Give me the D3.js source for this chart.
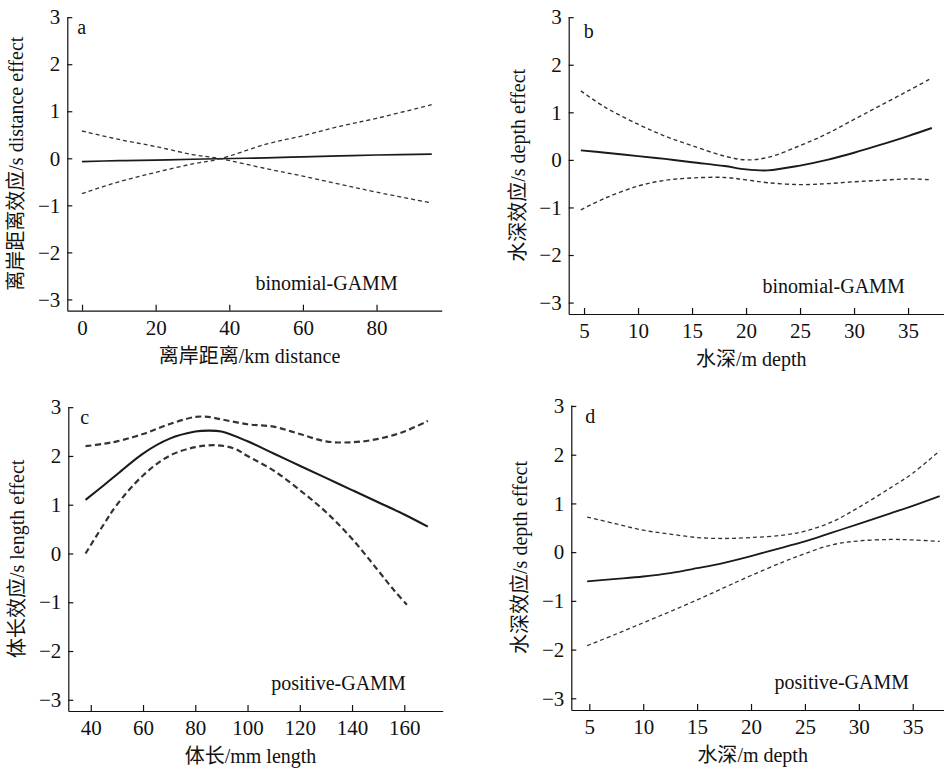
<!DOCTYPE html>
<html>
<head>
<meta charset="utf-8">
<script src="https://cdn.jsdelivr.net/npm/d3@7"></script>
<style>
  body { margin: 0; background: #fff; }
  svg text, svg tspan.lat { font-family: "Liberation Serif", "Times New Roman", serif; fill: #111; }
  svg tspan.cjk { font-family: "Noto Sans CJK SC", sans-serif; }
</style>
</head>
<body>
<script>
// panel a: distance (binomial-GAMM)
const distX     = [0, 10, 20, 30, 37, 50, 60, 70, 80, 95];
const distFit   = [-0.07, -0.05, -0.04, -0.02, -0.01, 0.01, 0.03, 0.05, 0.07, 0.09];
const distUpper = [0.58, 0.40, 0.25, 0.08, 0.0, -0.22, -0.38, -0.55, -0.72, -0.95];
const distLower = [-0.75, -0.50, -0.30, -0.12, -0.02, 0.30, 0.48, 0.68, 0.85, 1.14];

// panel b: depth (binomial-GAMM)
const depthBX     = [4.7, 7, 10, 12.5, 15, 18, 20, 22, 25, 27.5, 30, 32.5, 35, 37.2];
const depthBFit   = [0.20, 0.15, 0.08, 0.02, -0.05, -0.13, -0.20, -0.22, -0.12, 0.0, 0.15, 0.32, 0.50, 0.67];
const depthBUpper = [1.45, 1.10, 0.75, 0.50, 0.30, 0.08, 0.0, 0.05, 0.30, 0.55, 0.85, 1.15, 1.45, 1.72];
const depthBLower = [-1.05, -0.80, -0.55, -0.43, -0.38, -0.37, -0.42, -0.48, -0.52, -0.50, -0.46, -0.43, -0.40, -0.42];

// panel c: length (positive-GAMM)
const lenX     = [38, 45, 50, 60, 70, 80, 85, 90, 100, 110, 120, 130, 140, 150, 160, 169];
const lenFit   = [1.10, 1.40, 1.62, 2.05, 2.35, 2.50, 2.52, 2.50, 2.30, 2.05, 1.80, 1.55, 1.30, 1.05, 0.80, 0.55];
const lenUpper = [2.20, 2.25, 2.30, 2.45, 2.65, 2.80, 2.80, 2.75, 2.65, 2.60, 2.45, 2.30, 2.28, 2.35, 2.50, 2.72];
const lenLowerX = [38, 45, 50, 60, 70, 80, 88, 95, 100, 110, 120, 130, 140, 150, 156, 161];
const lenLower  = [0.0, 0.60, 1.00, 1.60, 2.00, 2.18, 2.22, 2.15, 2.00, 1.70, 1.30, 0.85, 0.30, -0.35, -0.75, -1.05];

// panel d: depth (positive-GAMM)
const depthDX     = [4.8, 7.5, 10, 12.5, 15, 17.5, 20, 23, 25, 27.5, 30, 33, 35, 37.5];
const depthDFit   = [-0.60, -0.55, -0.50, -0.43, -0.33, -0.22, -0.08, 0.10, 0.22, 0.40, 0.58, 0.80, 0.95, 1.15];
const depthDUpper = [0.72, 0.58, 0.45, 0.37, 0.30, 0.28, 0.30, 0.35, 0.43, 0.62, 0.92, 1.33, 1.62, 2.08];
const depthDLower = [-1.92, -1.68, -1.45, -1.22, -0.98, -0.73, -0.48, -0.20, -0.03, 0.15, 0.23, 0.26, 0.25, 0.22];

const yTicks = [-3, -2, -1, 0, 1, 2, 3];

const panels = [
  { letter: "a", box: [67.3, 16.7, 441.7, 310.7], xDomain: [-4, 97.7], xTicks: [0, 20, 40, 60, 80],
    yDomain: [-3.24, 3.01], xTitle: ["离岸距离", "/km distance"], yTitle: ["离岸距离效应", "/s distance effect"],
    model: "binomial-GAMM", modelRight: 44, letterOff: [10, 17], dash: "4,3", dashW: 1.3, fitW: 1.7,
    series: [{ x: distX, y: distFit, dashed: false }, { x: distX, y: distUpper, dashed: true }, { x: distX, y: distLower, dashed: true }] },
  { letter: "b", box: [568.7, 16.7, 943.7, 314], xDomain: [3.58, 38.3], xTicks: [5, 10, 15, 20, 25, 30, 35],
    yDomain: [-3.24, 3.01], xTitle: ["水深", "/m depth"], yTitle: ["水深效应", "/s depth effect"],
    model: "binomial-GAMM", modelRight: 39, letterOff: [15, 21], dash: "4,3", dashW: 1.4, fitW: 1.9,
    series: [{ x: depthBX, y: depthBFit, dashed: false }, { x: depthBX, y: depthBUpper, dashed: true }, { x: depthBX, y: depthBLower, dashed: true }] },
  { letter: "c", box: [68.3, 406.7, 442.7, 711], xDomain: [31.4, 174.7], xTicks: [40, 60, 80, 100, 120, 140, 160],
    yDomain: [-3.23, 3.01], xTitle: ["体长", "/mm length"], yTitle: ["体长效应", "/s length effect"],
    model: "positive-GAMM", modelRight: 37, letterOff: [12, 17], dash: "6,3.5", dashW: 2.2, fitW: 2.1,
    series: [{ x: lenX, y: lenFit, dashed: false }, { x: lenX, y: lenUpper, dashed: true }, { x: lenLowerX, y: lenLower, dashed: true }] },
  { letter: "d", box: [571.3, 405, 944, 710], xDomain: [3.33, 37.9], xTicks: [5, 10, 15, 20, 25, 30, 35],
    yDomain: [-3.24, 3.02], xTitle: ["水深", "/m depth"], yTitle: ["水深效应", "/s depth effect"],
    model: "positive-GAMM", modelRight: 35, letterOff: [14, 18], dash: "4,3", dashW: 1.3, fitW: 1.8,
    series: [{ x: depthDX, y: depthDFit, dashed: false }, { x: depthDX, y: depthDUpper, dashed: true }, { x: depthDX, y: depthDLower, dashed: true }] }
];

const svg = d3.select("body").append("svg")
  .attr("width", 944)
  .attr("height", 771);

const fmt = d => d < 0 ? "\u2212" + Math.abs(d) : String(d);

// chinese part and latin part in their own tspans so each gets its font
function mixedText(sel, parts) {
  sel.append("tspan").attr("class", "cjk").text(parts[0]);
  sel.append("tspan").attr("class", "lat").text(parts[1]);
}

panels.forEach(p => {
  const [x0, y0, x1, y1] = p.box;
  const x = d3.scaleLinear().domain(p.xDomain).range([x0, x1]);
  const y = d3.scaleLinear().domain(p.yDomain).range([y1, y0]);
  const g = svg.append("g");

  // x axis, ticks point inward
  const xAxis = g.append("g")
    .attr("transform", `translate(0,${y1})`)
    .call(d3.axisBottom(x).tickValues(p.xTicks).tickSize(-6).tickPadding(9).tickSizeOuter(0).tickFormat(fmt));
  xAxis.attr("font-family", null).attr("font-size", null);
  xAxis.select(".domain").attr("stroke", "#111").attr("stroke-width", 1.2);
  xAxis.selectAll(".tick line").attr("stroke", "#111").attr("stroke-width", 1.2);
  xAxis.selectAll("text").attr("font-size", 21);

  const yAxis = g.append("g")
    .attr("transform", `translate(${x0},0)`)
    .call(d3.axisLeft(y).tickValues(yTicks).tickSize(-5).tickPadding(7).tickSizeOuter(0).tickFormat(fmt));
  yAxis.attr("font-family", null).attr("font-size", null);
  yAxis.select(".domain").attr("stroke", "#111").attr("stroke-width", 1.2);
  yAxis.selectAll(".tick line").attr("stroke", "#111").attr("stroke-width", 1.2);
  yAxis.selectAll("text").attr("font-size", 21);

  // curves
  p.series.forEach(s => {
    const pts = s.x.map((v, i) => [v, s.y[i]]);
    g.append("path")
      .datum(pts)
      .attr("fill", "none")
      .attr("stroke", s.dashed ? "#333" : "#1a1a1a")
      .attr("stroke-width", s.dashed ? p.dashW : p.fitW)
      .attr("stroke-dasharray", s.dashed ? p.dash : null)
      .attr("d", d3.line().curve(d3.curveCatmullRom.alpha(0.5)).x(d => x(d[0])).y(d => y(d[1])));
  });

  // texts
  g.append("text")
    .attr("x", x0 + p.letterOff[0])
    .attr("y", y0 + p.letterOff[1])
    .attr("font-size", 20)
    .text(p.letter);

  g.append("text")
    .attr("x", x1 - p.modelRight)
    .attr("y", y(-2.8))
    .attr("text-anchor", "end")
    .attr("font-size", 20)
    .text(p.model);

  g.append("text")
    .attr("x", (x0 + x1) / 2 - 5)
    .attr("y", y1 + 52)
    .attr("text-anchor", "middle")
    .attr("font-size", 20)
    .call(mixedText, p.xTitle);

  g.append("text")
    .attr("transform", `translate(${x0 - 44},${(y0 + y1) / 2}) rotate(-90)`)
    .attr("text-anchor", "middle")
    .attr("font-size", 20)
    .call(mixedText, p.yTitle);
});
</script>
</body>
</html>
